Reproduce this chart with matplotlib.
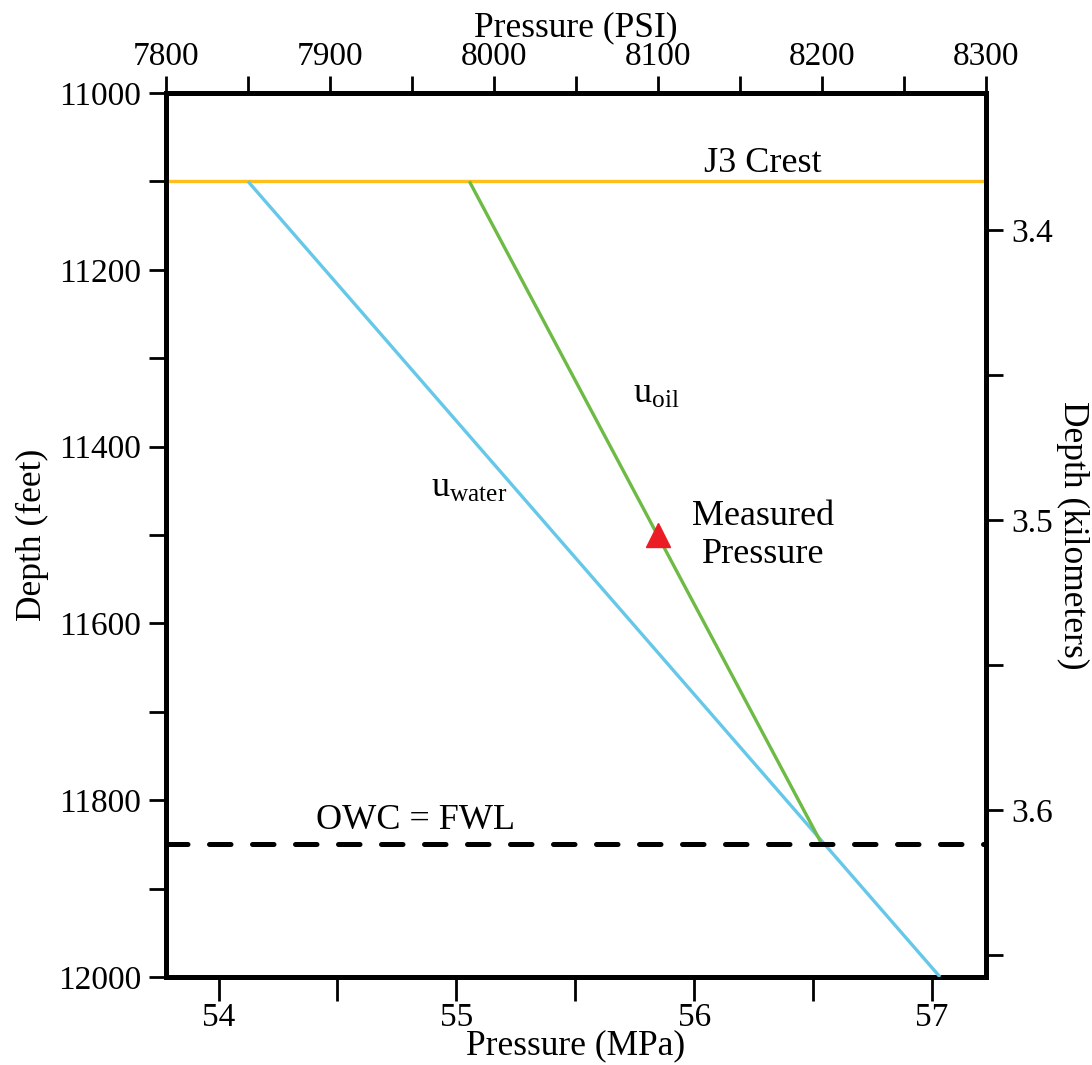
import matplotlib
matplotlib.use("Agg")
import matplotlib.pyplot as plt
import numpy as np

plt.rcParams['font.family'] = ['Liberation Serif', 'DejaVu Serif']
plt.rcParams['mathtext.fontset'] = 'custom'
plt.rcParams['mathtext.rm'] = 'Liberation Serif'
plt.rcParams['mathtext.it'] = 'Liberation Serif:italic'

# ---- data ----
crest_depth_ft = 11100
owc_depth_ft = 11850
water_depth_ft = [11100, 12000]
water_psi = [7850, 8272]
oil_depth_ft = [11100, 11850]
oil_psi = [7985, 8200]
measured_depth_ft = [11500]
measured_psi = [8100]

psi_ticks = [7800, 7900, 8000, 8100, 8200, 8300]
ft_ticks = [11000, 11200, 11400, 11600, 11800, 12000]
mpa_ticks = [54, 55, 56, 57]
km_ticks = [3.4, 3.5, 3.6]

PSI_PER_MPA = 145.0377
FT_PER_KM = 3280.84

def psi2mpa(p):
    return np.asarray(p) / PSI_PER_MPA
def mpa2psi(m):
    return np.asarray(m) * PSI_PER_MPA
def ft2km(f):
    return np.asarray(f) / FT_PER_KM
def km2ft(k):
    return np.asarray(k) * FT_PER_KM

W, H = 1092, 1065
fig = plt.figure(figsize=(W / 100, H / 100), dpi=100)
ax = fig.add_axes([166 / W, 1 - 977 / H, (986 - 166) / W, (977 - 93) / H])

ax.set_xlim(7800, 8300)
ax.set_ylim(12000, 11000)

c_crest = '#FFBE1A'
c_water = '#66C8E8'
c_oil = '#6DBB45'
c_meas = '#EC1C24'

ax.axhline(crest_depth_ft, color=c_crest, lw=2.4, zorder=2)
ax.plot(water_psi, water_depth_ft, color=c_water, lw=2.4, zorder=3, solid_capstyle='butt')
ax.plot(oil_psi, oil_depth_ft, color=c_oil, lw=2.4, zorder=3, solid_capstyle='butt')
ax.plot([7800, 8300], [owc_depth_ft] * 2, color='black', lw=3.6, dashes=(4.3, 4.3),
        dash_capstyle='round', zorder=4, clip_on=True)
ax.plot(measured_psi, measured_depth_ft, marker='^', color=c_meas, ms=17, ls='none', zorder=5)

fs = 24
afs = 26
ax.text(8128, 11089, 'J3 Crest', fontsize=afs, ha='left', va='baseline')
ax.text(8099, 11351, r'u$_{\mathrm{oil}}$', fontsize=afs, ha='center', va='baseline')
ax.text(7985, 11457, r'u$_{\mathrm{water}}$', fontsize=afs, ha='center', va='baseline')
ax.text(8164, 11489, 'Measured', fontsize=afs, ha='center', va='baseline')
ax.text(8164, 11532, 'Pressure', fontsize=afs, ha='center', va='baseline')
ax.text(7952, 11833, 'OWC = FWL', fontsize=afs, ha='center', va='baseline')

# main axis ticks: top (psi) and left (ft)
ax.xaxis.tick_top()
ax.xaxis.set_label_position('top')
ax.set_xticks(psi_ticks)
ax.set_xticks(np.arange(7850, 8300, 100), minor=True)
ax.set_yticks(ft_ticks)
ax.set_yticks(np.arange(11100, 12000, 200), minor=True)
ax.tick_params(axis='both', which='both', direction='out', length=12, width=2,
               labelsize=fs, color='black')
ax.tick_params(axis='x', which='both', pad=3)
ax.tick_params(axis='y', which='both', pad=6)
ax.tick_params(axis='y', which='both', right=False)
ax.tick_params(axis='x', which='both', bottom=False)

for s in ax.spines.values():
    s.set_linewidth(3.6)

lfs = 25.5
ax.set_xlabel('Pressure (PSI)', fontsize=lfs, labelpad=4)
ax.set_ylabel('Depth (feet)', fontsize=lfs, labelpad=6)

secx = ax.secondary_xaxis('bottom', functions=(psi2mpa, mpa2psi))
secx.set_xticks(mpa_ticks)
secx.set_xticks(np.arange(54.5, 57.5, 1.0), minor=True)
secx.tick_params(which='both', direction='out', length=17, width=2, labelsize=fs, pad=1)
secx.set_xlabel('Pressure (MPa)', fontsize=lfs, labelpad=-2)
secx.spines['bottom'].set_linewidth(3.6)

secy = ax.secondary_yaxis('right', functions=(ft2km, km2ft))
secy.set_yticks(km_ticks)
secy.set_yticks([3.45, 3.55, 3.65], minor=True)
secy.tick_params(which='both', direction='out', length=12, width=2, labelsize=fs, pad=6)
secy.set_ylabel('Depth (kilometers)', fontsize=lfs, rotation=270, labelpad=26)
secy.spines['right'].set_linewidth(3.6)

fig.savefig('out.png', dpi=100, facecolor='white')
